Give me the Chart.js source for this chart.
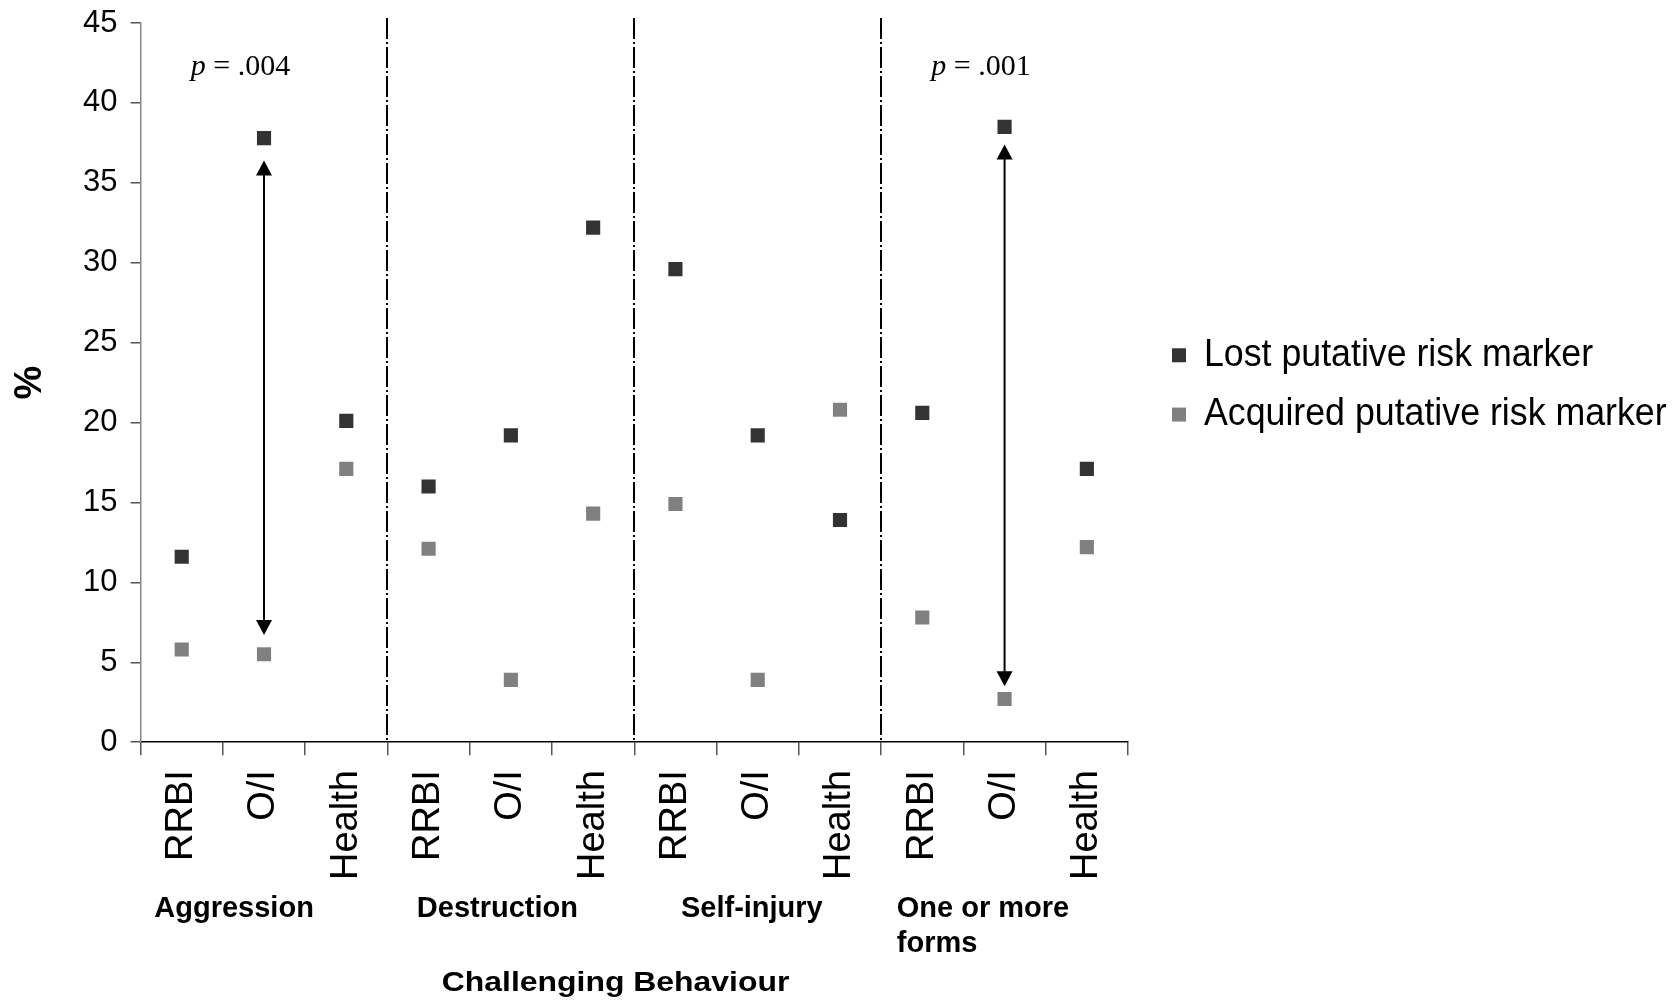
<!DOCTYPE html>
<html>
<head>
<meta charset="utf-8">
<script src="https://cdn.jsdelivr.net/npm/chart.js@4.4.0/dist/chart.umd.min.js"></script>
<style>
  html, body { margin: 0; padding: 0; background: #fff; }
  #chart { display: block; }
</style>
</head>
<body>
<canvas id="chart" width="1677" height="1002"></canvas>
<script>
// Categories on the x axis, three per behaviour group.
const categories = ["RRBI", "O/I", "Health", "RRBI", "O/I", "Health", "RRBI", "O/I", "Health", "RRBI", "O/I", "Health"];
const groups = [["Aggression"], ["Destruction"], ["Self-injury"], ["One or more", "forms"]];
const seriesNames = ["Lost putative risk marker", "Acquired putative risk marker"];

// Percentages per category.
const lostValues = [11.6, 37.8, 20.1, 16.0, 19.2, 32.2, 29.6, 19.2, 13.9, 20.6, 38.5, 17.1];
const acquiredValues = [5.8, 5.5, 17.1, 12.1, 3.9, 14.3, 14.9, 3.9, 20.8, 7.8, 2.7, 12.2];

// Significant differences: category index, arrow ends (%), p value.
const arrowIndex = [1, 10];
const arrowTop = [36.4, 37.4];
const arrowBottom = [6.7, 3.5];
const pValues = [".004", ".001"];

const yMin = 0;
const yMax = 45;
const yStep = 5;

Chart.defaults.font.family = "'Liberation Sans', Arial, sans-serif";
Chart.defaults.color = "#000";

const colors = ["#333333", "#808080"];

function arrowHead(ctx, x, y, dir) {
    ctx.beginPath();
    ctx.moveTo(x, y);
    ctx.lineTo(x - 8, y - dir * 15);
    ctx.lineTo(x + 8, y - dir * 15);
    ctx.closePath();
    ctx.fill();
}

// Text squeezed or widened horizontally around its left edge.
function scaledText(ctx, text, x, y, sx) {
    ctx.save();
    ctx.translate(x, y);
    ctx.scale(sx, 1);
    ctx.fillText(text, 0, 0);
    ctx.restore();
}

// Separators, arrows, p values, group names, x title and legend.
const extras = {
    id: "extras",
    afterDraw(chart) {
        const {ctx, chartArea, scales: {x, y}} = chart;
        const step = x.getPixelForValue(1) - x.getPixelForValue(0);
        const groupSize = categories.length / groups.length;
        ctx.save();

        ctx.strokeStyle = "#000";
        ctx.lineWidth = 2;
        ctx.setLineDash([21, 3, 2, 3]);
        for (let g = 1; g < groups.length; g++) {
            const px = Math.round(x.getPixelForValue(g * groupSize) - step / 2);
            ctx.beginPath();
            ctx.moveTo(px, chartArea.top - 5);
            ctx.lineTo(px, chartArea.bottom);
            ctx.stroke();
        }
        ctx.setLineDash([]);

        ctx.fillStyle = "#000";
        ctx.lineWidth = 2;
        arrowIndex.forEach((idx, i) => {
            const px = x.getPixelForValue(idx);
            const top = y.getPixelForValue(arrowTop[i]);
            const bottom = y.getPixelForValue(arrowBottom[i]);
            ctx.beginPath();
            ctx.moveTo(px, top + 14);
            ctx.lineTo(px, bottom - 14);
            ctx.stroke();
            arrowHead(ctx, px, top, -1);
            arrowHead(ctx, px, bottom, 1);

            // p value above the arrow
            const base = y.getPixelForValue(41.75);
            let tx = px - step * 0.89;
            ctx.textBaseline = "alphabetic";
            ctx.textAlign = "left";
            ctx.font = "italic 30px 'Liberation Serif', serif";
            ctx.fillText("p", tx, base);
            tx += ctx.measureText("p").width;
            ctx.font = "30px 'Liberation Serif', serif";
            ctx.fillText(" = " + pValues[i], tx, base);
        });

        // group names under the tick labels
        const groupShift = [0.167, 0.357, 0.567, 0.19];
        ctx.font = "bold 29px 'Liberation Sans', Arial, sans-serif";
        ctx.textBaseline = "middle";
        ctx.textAlign = "left";
        groups.forEach((lines, g) => {
            const left = x.getPixelForValue(g * groupSize) - step / 2 + groupShift[g] * step;
            lines.forEach((line, k) => {
                ctx.fillText(line, left, chartArea.bottom + 167 + k * 35);
            });
        });

        // axis title, a little wider than the group names
        ctx.font = "bold 28px 'Liberation Sans', Arial, sans-serif";
        const title = "Challenging Behaviour";
        const titleW = ctx.measureText(title).width * 1.14;
        const titleX = chartArea.left + 0.481 * (chartArea.right - chartArea.left) - titleW / 2;
        scaledText(ctx, title, titleX, chartArea.bottom + 241, 1.14);

        // legend to the right of the plot
        const midY = (chartArea.top + chartArea.bottom) / 2 + 2.4;
        ctx.font = "38px 'Liberation Sans', Arial, sans-serif";
        seriesNames.forEach((name, i) => {
            const cy = midY - 29.7 + i * 59.3;
            ctx.fillStyle = colors[i];
            ctx.fillRect(chartArea.right + 44, cy - 7, 14, 14);
            ctx.fillStyle = "#000";
            scaledText(ctx, name, chartArea.right + 76, cy, 0.94);
        });

        ctx.restore();
    }
};

new Chart(document.getElementById("chart"), {
    type: "line",
    data: {
        labels: categories,
        datasets: [
            {
                label: seriesNames[0],
                data: lostValues,
                showLine: false,
                pointStyle: "rect",
                pointRadius: 10,
                pointBorderWidth: 0,
                backgroundColor: colors[0],
                borderColor: colors[0],
            },
            {
                label: seriesNames[1],
                data: acquiredValues,
                showLine: false,
                pointStyle: "rect",
                pointRadius: 10,
                pointBorderWidth: 0,
                backgroundColor: colors[1],
                borderColor: colors[1],
            },
        ],
    },
    options: {
        responsive: false,
        animation: false,
        layout: {
            padding: {top: 23, right: 549, bottom: 107, left: 0}
        },
        plugins: {
            legend: {display: false},
            tooltip: {enabled: false},
        },
        scales: {
            x: {
                type: "category",
                offset: true,
                grid: {offset: true, drawOnChartArea: false, tickLength: 13, color: "#555", lineWidth: 1.5},
                border: {color: "#000", width: 1.5},
                ticks: {minRotation: 90, maxRotation: 90, autoSkip: false, padding: 15, color: "#000", font: {size: 38}},
            },
            y: {
                min: yMin,
                max: yMax,
                ticks: {stepSize: yStep, padding: 13, color: "#000", font: {size: 31}},
                grid: {drawOnChartArea: false, tickLength: 10, color: "#555", lineWidth: 1.5},
                border: {color: "#888", width: 1.5},
                title: {
                    display: true,
                    text: "%",
                    color: "#000",
                    font: {size: 38, weight: "bold"},
                    padding: {top: 8, bottom: 16.5},
                },
                // top label may overhang; the layout padding keeps the plot top fixed
                afterFit(scale) {
                    scale.paddingTop = 0;
                },
            },
        },
    },
    plugins: [extras],
});
</script>
</body>
</html>
